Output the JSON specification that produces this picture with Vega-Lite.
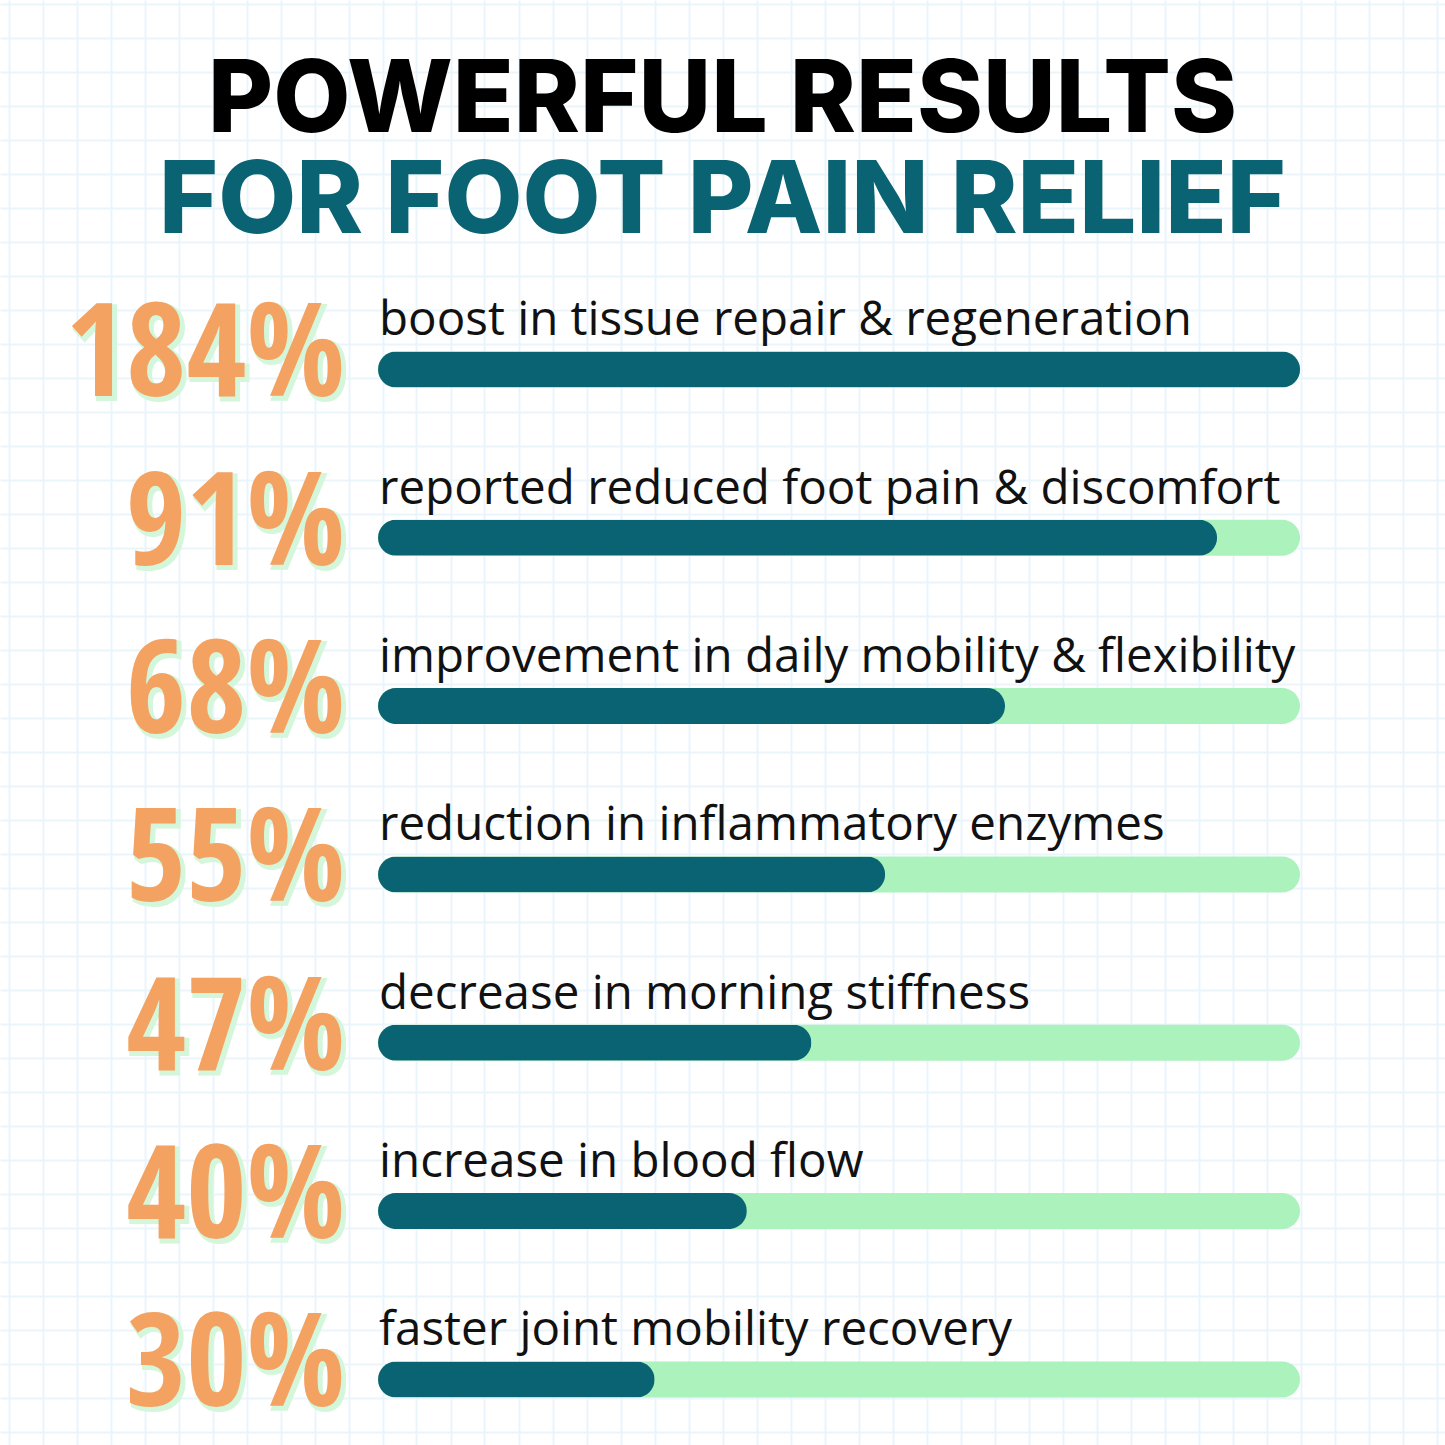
{
  "$schema": "https://vega.github.io/schema/vega-lite/v6.json",
  "width": 1445,
  "height": 1445,
  "autosize": {"type": "fit", "contains": "padding"},
  "padding": 0,
  "background": "#FFFFFF",
  "config": {"view": {"stroke": null}},
  "title": {
    "text": "POWERFUL RESULTS",
    "subtitle": "FOR FOOT PAIN RELIEF",
    "anchor": "middle",
    "orient": "top",
    "offset": -254,
    "font": "Inter",
    "fontSize": 100,
    "fontWeight": 800,
    "color": "#000000",
    "subtitleFont": "Inter",
    "subtitleFontSize": 101,
    "subtitleFontWeight": 800,
    "subtitleColor": "#0A6372",
    "subtitlePadding": 0
  },
  "data": {
    "values": [
      {"rank": 1, "pct": "184%", "value": 184, "fill": 100, "label": "boost in tissue repair & regeneration"},
      {"rank": 2, "pct": "91%", "value": 91, "fill": 91, "label": "reported reduced foot pain & discomfort"},
      {"rank": 3, "pct": "68%", "value": 68, "fill": 68, "label": "improvement in daily mobility & flexibility"},
      {"rank": 4, "pct": "55%", "value": 55, "fill": 55, "label": "reduction in inflammatory enzymes"},
      {"rank": 5, "pct": "47%", "value": 47, "fill": 47, "label": "decrease in morning stiffness"},
      {"rank": 6, "pct": "40%", "value": 40, "fill": 40, "label": "increase in blood flow"},
      {"rank": 7, "pct": "30%", "value": 30, "fill": 30, "label": "faster joint mobility recovery"}
    ]
  },
  "layer": [
    {
      "mark": {"type": "point", "opacity": 0},
      "encoding": {
        "x": {"field": "rank", "type": "quantitative", "scale": {"domain": [-0.25, 42.25], "nice": false, "zero": false},
          "axis": {"grid": true, "tickCount": 43, "labels": false, "ticks": false, "domain": false, "title": null, "gridColor": "#EAF5FB", "gridWidth": 2}},
        "y": {"field": "rank", "type": "quantitative", "scale": {"domain": [-0.1176, 42.382], "nice": false, "zero": false, "reverse": true},
          "axis": {"grid": true, "tickCount": 43, "labels": false, "ticks": false, "domain": false, "title": null, "gridColor": "#EAF5FB", "gridWidth": 2}}
      }
    },
    {
      "encoding": {
        "y": {"field": "rank", "type": "quantitative", "scale": {"domain": [-1.165, 7.36], "nice": false, "zero": false, "reverse": true}, "axis": null}
      },
      "layer": [
        {
          "mark": {"type": "bar", "orient": "horizontal", "size": 36, "cornerRadius": 18, "color": "#ABF2BD"},
          "encoding": {
            "x": {"datum": 100, "type": "quantitative", "scale": {"domain": [-41.0, 115.72], "nice": false, "zero": false}, "axis": null}
          }
        },
        {
          "mark": {"type": "bar", "orient": "horizontal", "size": 36, "cornerRadius": 18, "color": "#0A6372"},
          "encoding": {
            "x": {"field": "fill", "type": "quantitative"}
          }
        },
        {
          "mark": {"type": "text", "align": "right", "baseline": "alphabetic", "dx": -30, "dy": 30, "font": "Open Sans Condensed", "fontSize": 130, "fontWeight": 800, "color": "#D4F6DA", "stroke": "#D4F6DA", "strokeWidth": 4},
          "encoding": {
            "x": {"datum": 0, "type": "quantitative"},
            "text": {"field": "pct"}
          }
        },
        {
          "mark": {"type": "text", "align": "right", "baseline": "alphabetic", "dx": -33, "dy": 27, "font": "Open Sans Condensed", "fontSize": 130, "fontWeight": 800, "color": "#F4A261"},
          "encoding": {
            "x": {"datum": 0, "type": "quantitative"},
            "text": {"field": "pct"}
          }
        },
        {
          "mark": {"type": "text", "align": "left", "baseline": "alphabetic", "dx": 1, "dy": -34, "font": "Open Sans", "fontSize": 47.5, "color": "#111111"},
          "encoding": {
            "x": {"datum": 0, "type": "quantitative"},
            "text": {"field": "label"}
          }
        }
      ]
    }
  ],
  "resolve": {"scale": {"x": "independent", "y": "independent"}}
}
